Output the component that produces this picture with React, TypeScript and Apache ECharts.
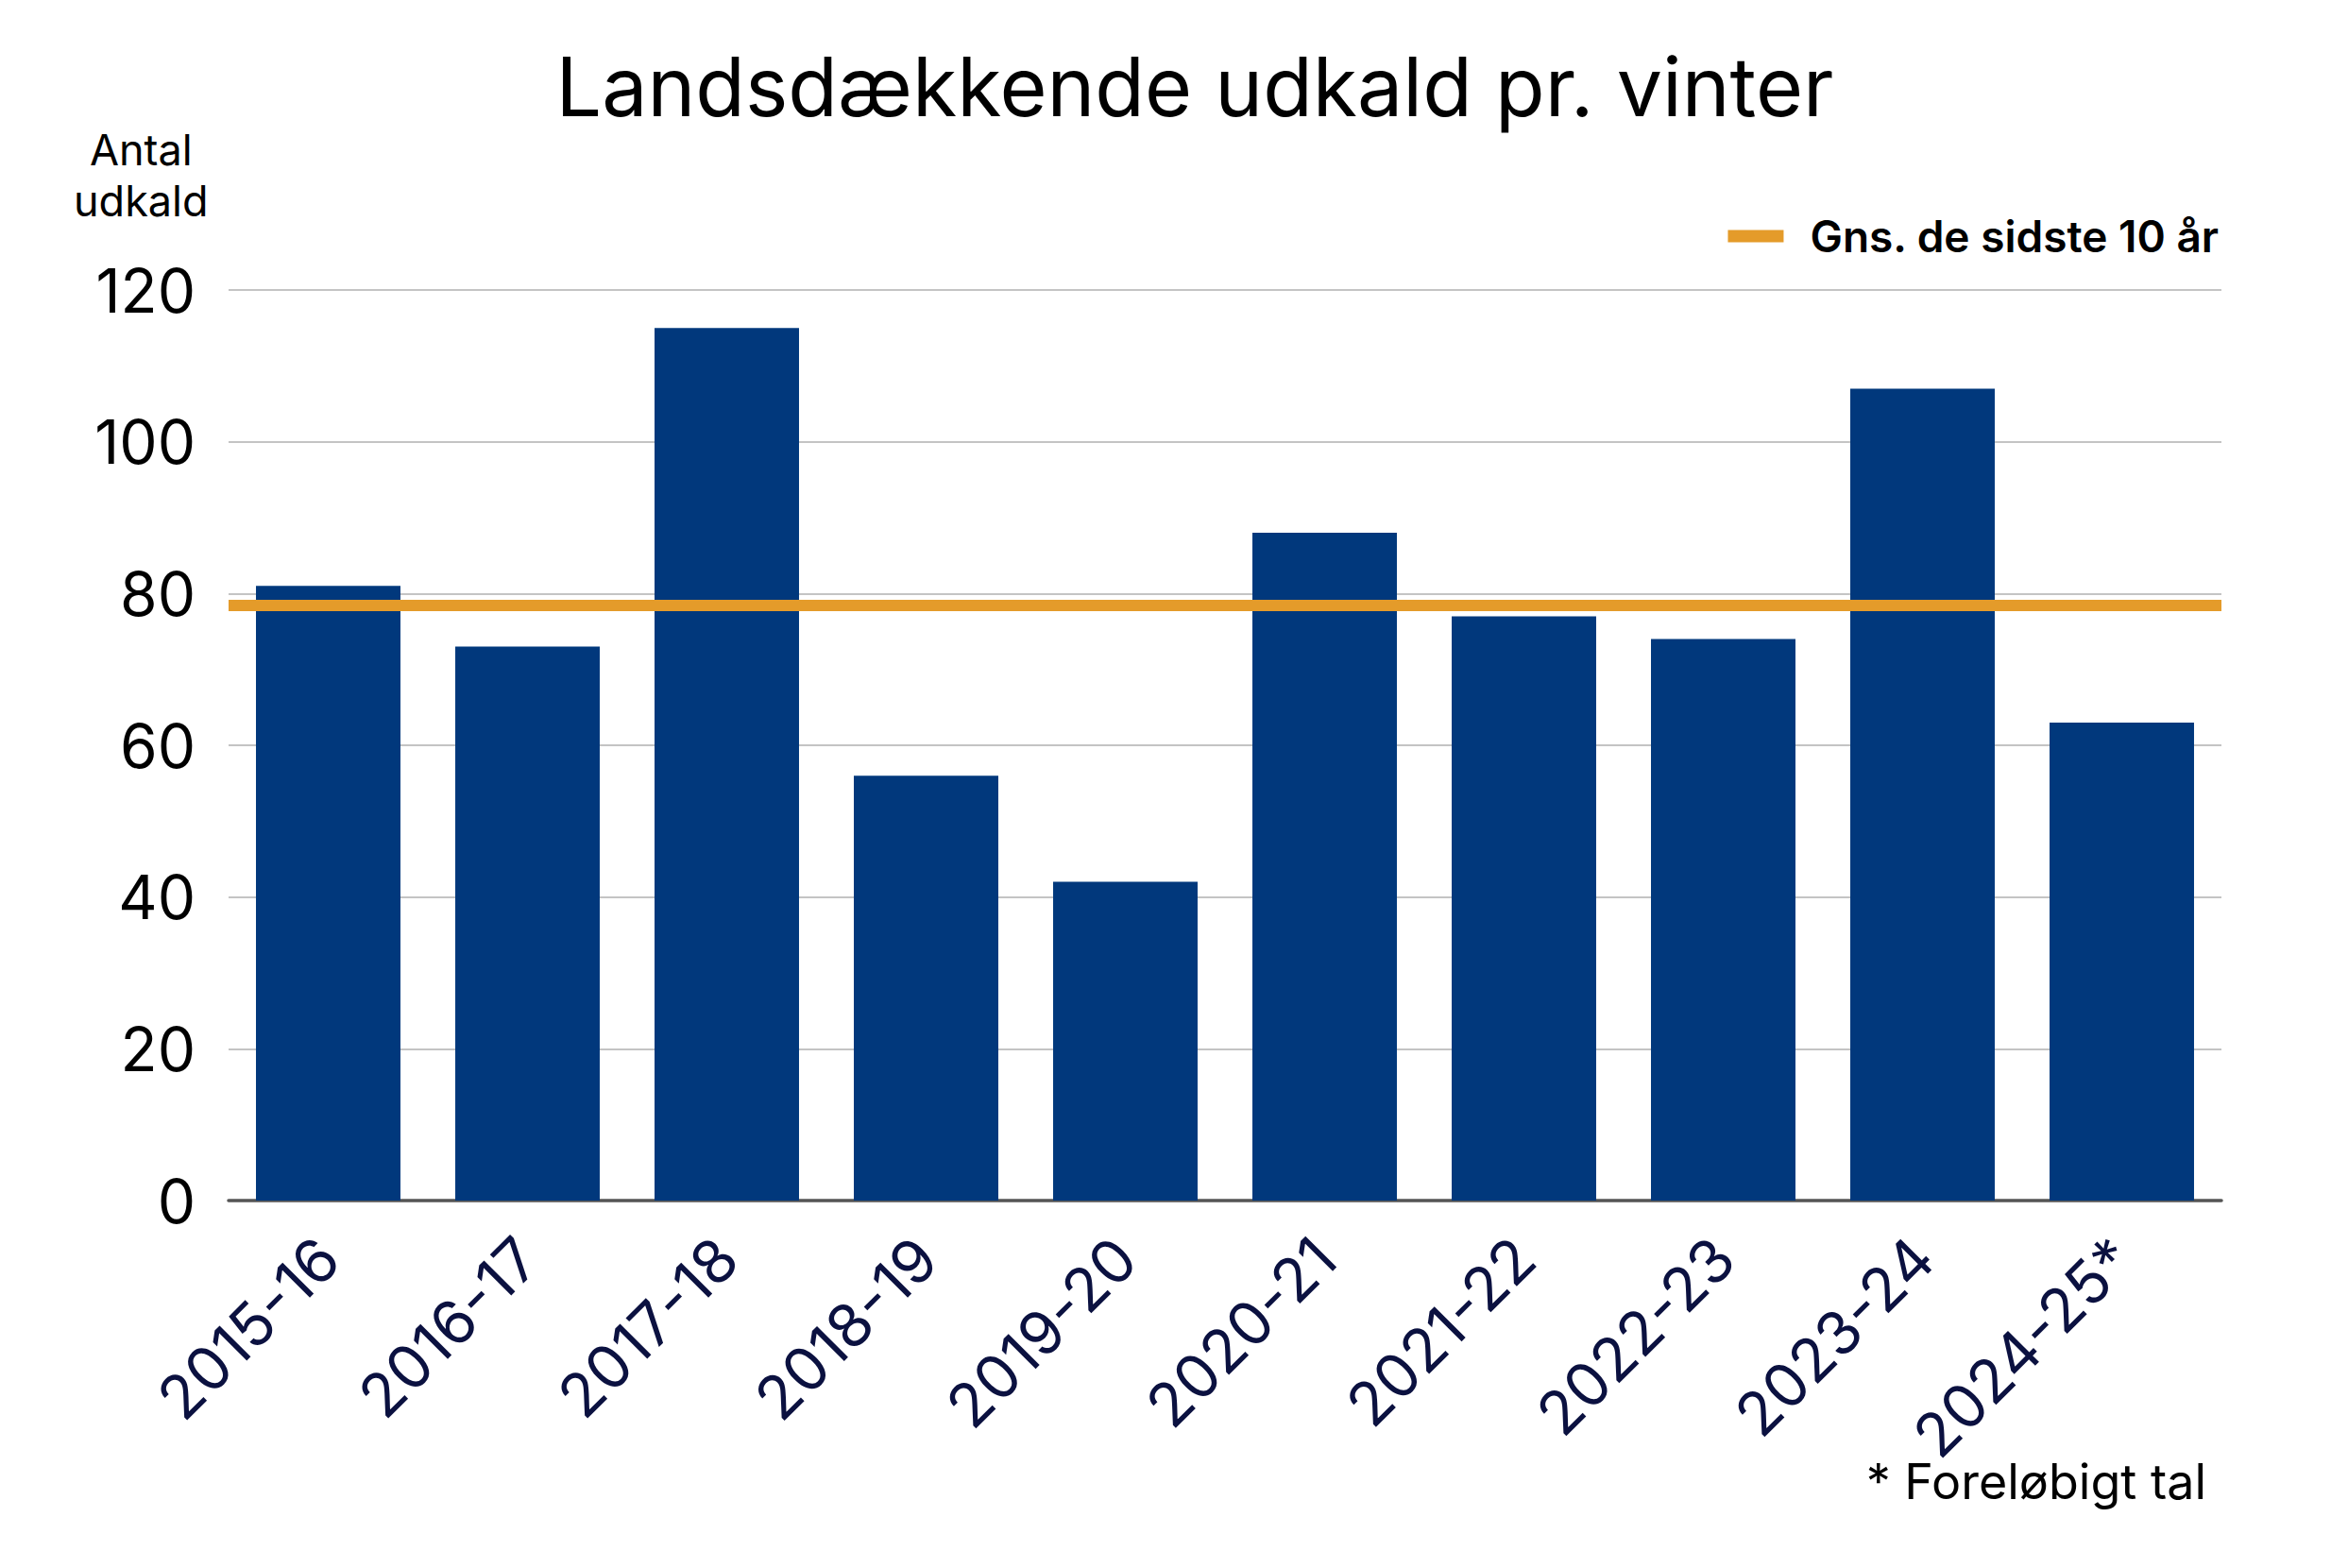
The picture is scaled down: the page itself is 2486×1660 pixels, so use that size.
import * as React from "react";
import * as echarts from "echarts";
import { useEffect, useRef } from "react";

const seasons = [
  "2015-16",
  "2016-17",
  "2017-18",
  "2018-19",
  "2019-20",
  "2020-21",
  "2021-22",
  "2022-23",
  "2023-24",
  "2024-25*",
];
const callouts = [81, 73, 115, 56, 42, 88, 77, 74, 107, 63];
const tenYearAverage = 78.5;
const yTicks = [0, 20, 40, 60, 80, 100, 120];

const FONT = "Inter";

const App = () => {
  const chartRef = useRef<HTMLDivElement>(null);

  useEffect(() => {
    document.body.style.margin = "0";
    if (!chartRef.current) return;
    const myChart = echarts.init(chartRef.current, null, { renderer: "svg" });

    const option = {
      animation: false,
      backgroundColor: "#ffffff",
      textStyle: { fontFamily: FONT },
      title: {
        text: "Landsdækkende udkald pr. vinter",
        left: 1260,
        top: 44,
        textAlign: "center",
        textStyle: {
          fontFamily: FONT,
          fontSize: 86,
          fontWeight: 400,
          color: "#000000",
        },
      },
      legend: {
        data: ["Gns. de sidste 10 år"],
        right: 131,
        top: 222,
        icon: "rect",
        itemWidth: 59,
        itemHeight: 13,
        itemGap: 20,
        textStyle: {
          fontFamily: FONT,
          fontSize: 46,
          fontWeight: 600,
          color: "#000000",
          padding: [0, 0, 0, 23],
        },
      },
      grid: {
        left: 242,
        right: 134,
        top: 307,
        bottom: 389,
        containLabel: false,
      },
      xAxis: {
        type: "category",
        data: seasons,
        axisLine: { lineStyle: { color: "#555555", width: 3.5 } },
        axisTick: { show: false },
        axisLabel: {
          rotate: 45,
          interval: 0,
          margin: 50,
          fontFamily: FONT,
          fontSize: 64,
          color: "#0b1140",
        },
      },
      yAxis: {
        type: "value",
        min: yTicks[0],
        max: yTicks[yTicks.length - 1],
        interval: 20,
        axisLine: { show: false },
        axisTick: { show: false },
        splitLine: { lineStyle: { color: "#c4c4c4", width: 2 } },
        axisLabel: {
          margin: 35,
          fontFamily: FONT,
          fontSize: 64,
          color: "#000000",
        },
      },
      graphic: [
        {
          type: "text",
          left: 78,
          top: 131,
          style: {
            text: "Antal\nudkald",
            font: `400 45px ${FONT}`,
            fill: "#000000",
            textAlign: "center",
            lineHeight: 54,
          },
        },
        {
          type: "text",
          right: 150,
          top: 1542,
          style: {
            text: "* Foreløbigt tal",
            font: `400 52px ${FONT}`,
            fill: "#000000",
          },
        },
      ],
      series: [
        {
          name: "Antal udkald",
          type: "bar",
          data: callouts,
          barWidth: "72.5%",
          itemStyle: { color: "#01387c" },
          z: 2,
        },
        {
          name: "Gns. de sidste 10 år",
          type: "line",
          data: [],
          itemStyle: { color: "#e49b2a" },
          lineStyle: { color: "#e49b2a", width: 12 },
          markLine: {
            silent: true,
            symbol: ["none", "none"],
            label: { show: false },
            lineStyle: { color: "#e49b2a", width: 12, type: "solid" },
            data: [{ yAxis: tenYearAverage }],
          },
          z: 3,
        },
      ],
    };

    myChart.setOption(option as any, true);

    return () => {
      myChart.dispose();
    };
  }, []);

  return <div ref={chartRef} style={{ width: 2486, height: 1660 }} />;
};

export default App;
